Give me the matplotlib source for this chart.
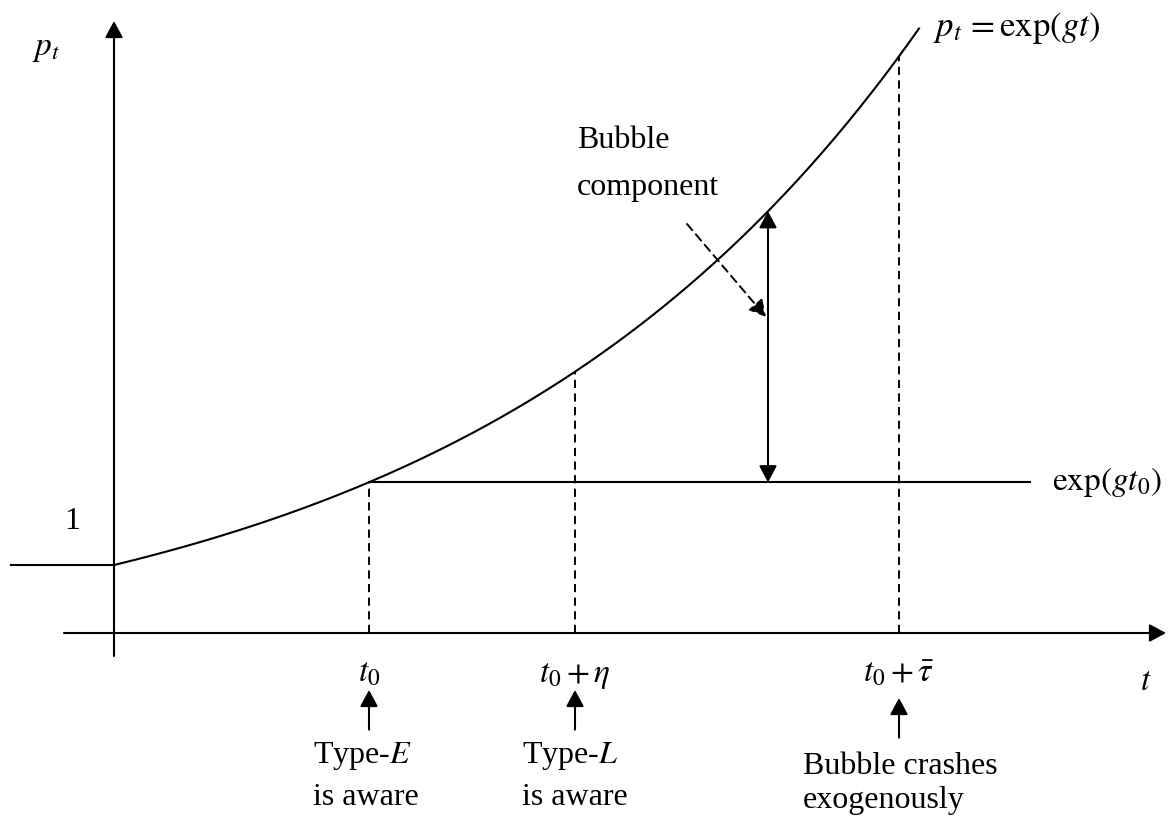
import numpy as np
import matplotlib
matplotlib.use("Agg")
import matplotlib.pyplot as plt

plt.rcParams['font.family'] = ['Liberation Serif', 'DejaVu Serif']
plt.rcParams['mathtext.fontset'] = 'stix'

# model values (t in arbitrary time units, p = exp(g t))
g = 0.22
t0 = 2.55
eta = 2.06
tau_bar = 5.30
t_end = 8.05
t_bubble = 6.54

tick_times = [t0, t0 + eta, t0 + tau_bar]
tick_labels = [r'$t_0$', r'$t_0+\eta$', r'$t_0+\bar{\tau}$']
note_lines = [['Type-$E$', 'is aware'],
              ['Type-$L$', 'is aware'],
              ['Bubble crashes', 'exogenously']]

p_axis = 0.382  # where the t axis crosses
fs = 23
fm = 24
lw = 1.5
head = '-|>,head_length=0.5,head_width=0.27'

fig = plt.figure(figsize=(11.72, 8.34), dpi=100)
ax = fig.add_axes([0, 0, 1, 1])
ax.set_xlim(-1.14, 10.58)
ax.set_ylim(-1.445, 6.136)
ax.axis('off')

# axes with arrow heads
ax.annotate('', xy=(0, 5.945), xytext=(0, 0.173),
            arrowprops=dict(arrowstyle=head, mutation_scale=20, lw=lw, color='black',
                            shrinkA=0, shrinkB=0))
ax.annotate('', xy=(10.52, p_axis), xytext=(-0.5, p_axis),
            arrowprops=dict(arrowstyle=head, mutation_scale=20, lw=lw, color='black',
                            shrinkA=0, shrinkB=0))

# price path: flat at 1, then exponential growth
ax.plot([-1.03, 0], [1, 1], color='black', lw=lw)
t = np.linspace(0, t_end, 400)
ax.plot(t, np.exp(g * t), color='black', lw=lw)

# fundamental value after t0
p0 = np.exp(g * t0)
ax.plot([t0, 9.16], [p0, p0], color='black', lw=lw)

# dashed verticals
for tt in tick_times:
    ax.plot([tt, tt], [p_axis, np.exp(g * tt)], color='black', lw=1.4,
            linestyle=(0, (4.2, 2.8)))

# bubble component double arrow
ax.annotate('', xy=(t_bubble, np.exp(g * t_bubble)), xytext=(t_bubble, p0),
            arrowprops=dict(arrowstyle='<|-|>,head_length=0.5,head_width=0.27',
                            mutation_scale=20, lw=lw, color='black',
                            shrinkA=0, shrinkB=0))
ax.annotate('', xy=(t_bubble - 0.02, 3.255), xytext=(5.73, 4.1),
            arrowprops=dict(arrowstyle=head, mutation_scale=20, lw=1.4, color='black',
                            linestyle=(0, (4.2, 2.8)), shrinkA=0, shrinkB=0))
ax.text(4.63, 4.79, 'Bubble', fontsize=fs, va='baseline')
ax.text(4.63, 4.364, 'component', fontsize=fs, va='baseline')

# labels
ax.text(-0.82, 5.636, r'$p_t$', fontsize=fm, va='baseline')
ax.text(-0.42, 1.327, '1', fontsize=fs, va='baseline', ha='center')
ax.text(8.19, 5.81, r'$p_t\,=\exp(gt)$', fontsize=fm + 1, va='baseline')
ax.text(9.38, 1.682, r'$\exp(gt_0)$', fontsize=fm, va='baseline')
ax.text(10.26, -0.136, r'$t$', fontsize=fm, va='baseline')

note_x = [1.99, 4.08, 6.89]
for tt, lab, lines, nx in zip(tick_times, tick_labels, note_lines, note_x):
    ax.text(tt, -0.06, lab, fontsize=fm, ha='center', va='baseline')
    top = -0.136 if tt < 7 else -0.209
    ax.annotate('', xy=(tt, top), xytext=(tt, top - 0.36),
                arrowprops=dict(arrowstyle=head, mutation_scale=20, lw=lw, color='black',
                                shrinkA=0, shrinkB=0))
    y1 = -0.8 if tt < 7 else -0.9
    ax.text(nx, y1, lines[0], fontsize=fs, va='baseline')
    ax.text(nx, y1 - 0.38 if tt < 7 else y1 - 0.31, lines[1], fontsize=fs, va='baseline')

fig.savefig('out.png', dpi=100)
